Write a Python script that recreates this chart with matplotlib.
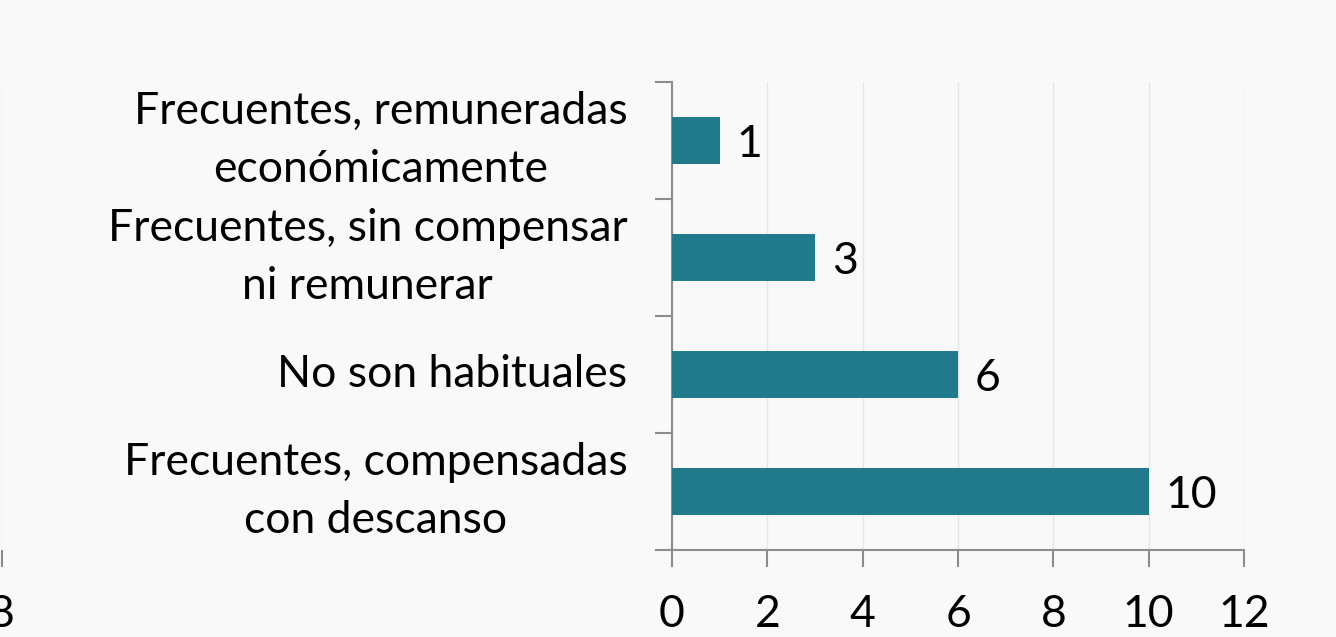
import matplotlib
matplotlib.use("Agg")
import matplotlib.pyplot as plt
import numpy as np

categories = [
    "Frecuentes, compensadas\ncon descanso",
    "No son habituales",
    "Frecuentes, sin compensar\nni remunerar",
    "Frecuentes, remuneradas\neconómicamente",
]
values = [10, 6, 3, 1]
x_ticks = [0, 2, 4, 6, 8, 10, 12]

bar_color = "#217A8B"
axis_gray = "#8C8C8C"
grid_gray = "#E6E6EA"
bg = "#F9F9F9"

plt.rcParams["font.family"] = ["Lato", "DejaVu Sans"]
fs = 32

fig = plt.figure(figsize=(13.36, 6.37), dpi=100, facecolor=bg)
W, H = 1336, 637

ax = fig.add_axes([672 / W, (H - 550) / H, (1244 - 672) / W, (550 - 82) / H])
ax.set_facecolor(bg)

y = np.arange(len(categories))
ax.barh(y, values, height=0.4, color=bar_color, zorder=3)
for yi, v in zip(y, values):
    ax.annotate(str(v), (v, yi), xytext=(12, -3), textcoords="offset points",
                va="center", ha="left", fontsize=fs, color="black")

ax.set_xlim(0, 12)
ax.set_ylim(-0.5, len(categories) - 0.5)
ax.set_xticks(x_ticks)
ax.set_xticklabels([str(t) for t in x_ticks], fontsize=fs)
ax.set_yticks(y)
ax.set_yticklabels(categories, fontsize=fs, ha="right", va="center",
                   multialignment="center", linespacing=1.5)
ax.set_yticks(np.arange(-0.5, len(categories), 1), minor=True)

ax.tick_params(axis="y", which="major", length=0, pad=32)
ax.tick_params(axis="y", which="minor", length=12, width=1.5, color=axis_gray)
ax.tick_params(axis="x", which="major", length=12, width=1.5, color=axis_gray, pad=20)

ax.grid(axis="x", color=grid_gray, linewidth=1, zorder=0)
for side in ["top", "right"]:
    ax.spines[side].set_visible(False)
for side in ["left", "bottom"]:
    ax.spines[side].set_color(axis_gray)
    ax.spines[side].set_linewidth(1.5)

# neighbouring chart, cut off at the left edge
ax2 = fig.add_axes([(2 - 8 * 572 / 12) / W, (H - 550) / H, (8 * 572 / 12) / W, (550 - 82) / H])
ax2.set_facecolor("none")
ax2.set_xlim(0, 8)
ax2.set_ylim(0, 1)
ax2.set_xticks([8])
ax2.set_xticklabels(["8"], fontsize=fs)
ax2.set_yticks([])
ax2.grid(axis="x", color=grid_gray, linewidth=1)
ax2.tick_params(axis="x", length=12, width=1.5, color=axis_gray, pad=20)
for side in ax2.spines:
    ax2.spines[side].set_visible(False)

fig.savefig("out.png", dpi=100, facecolor=bg)
